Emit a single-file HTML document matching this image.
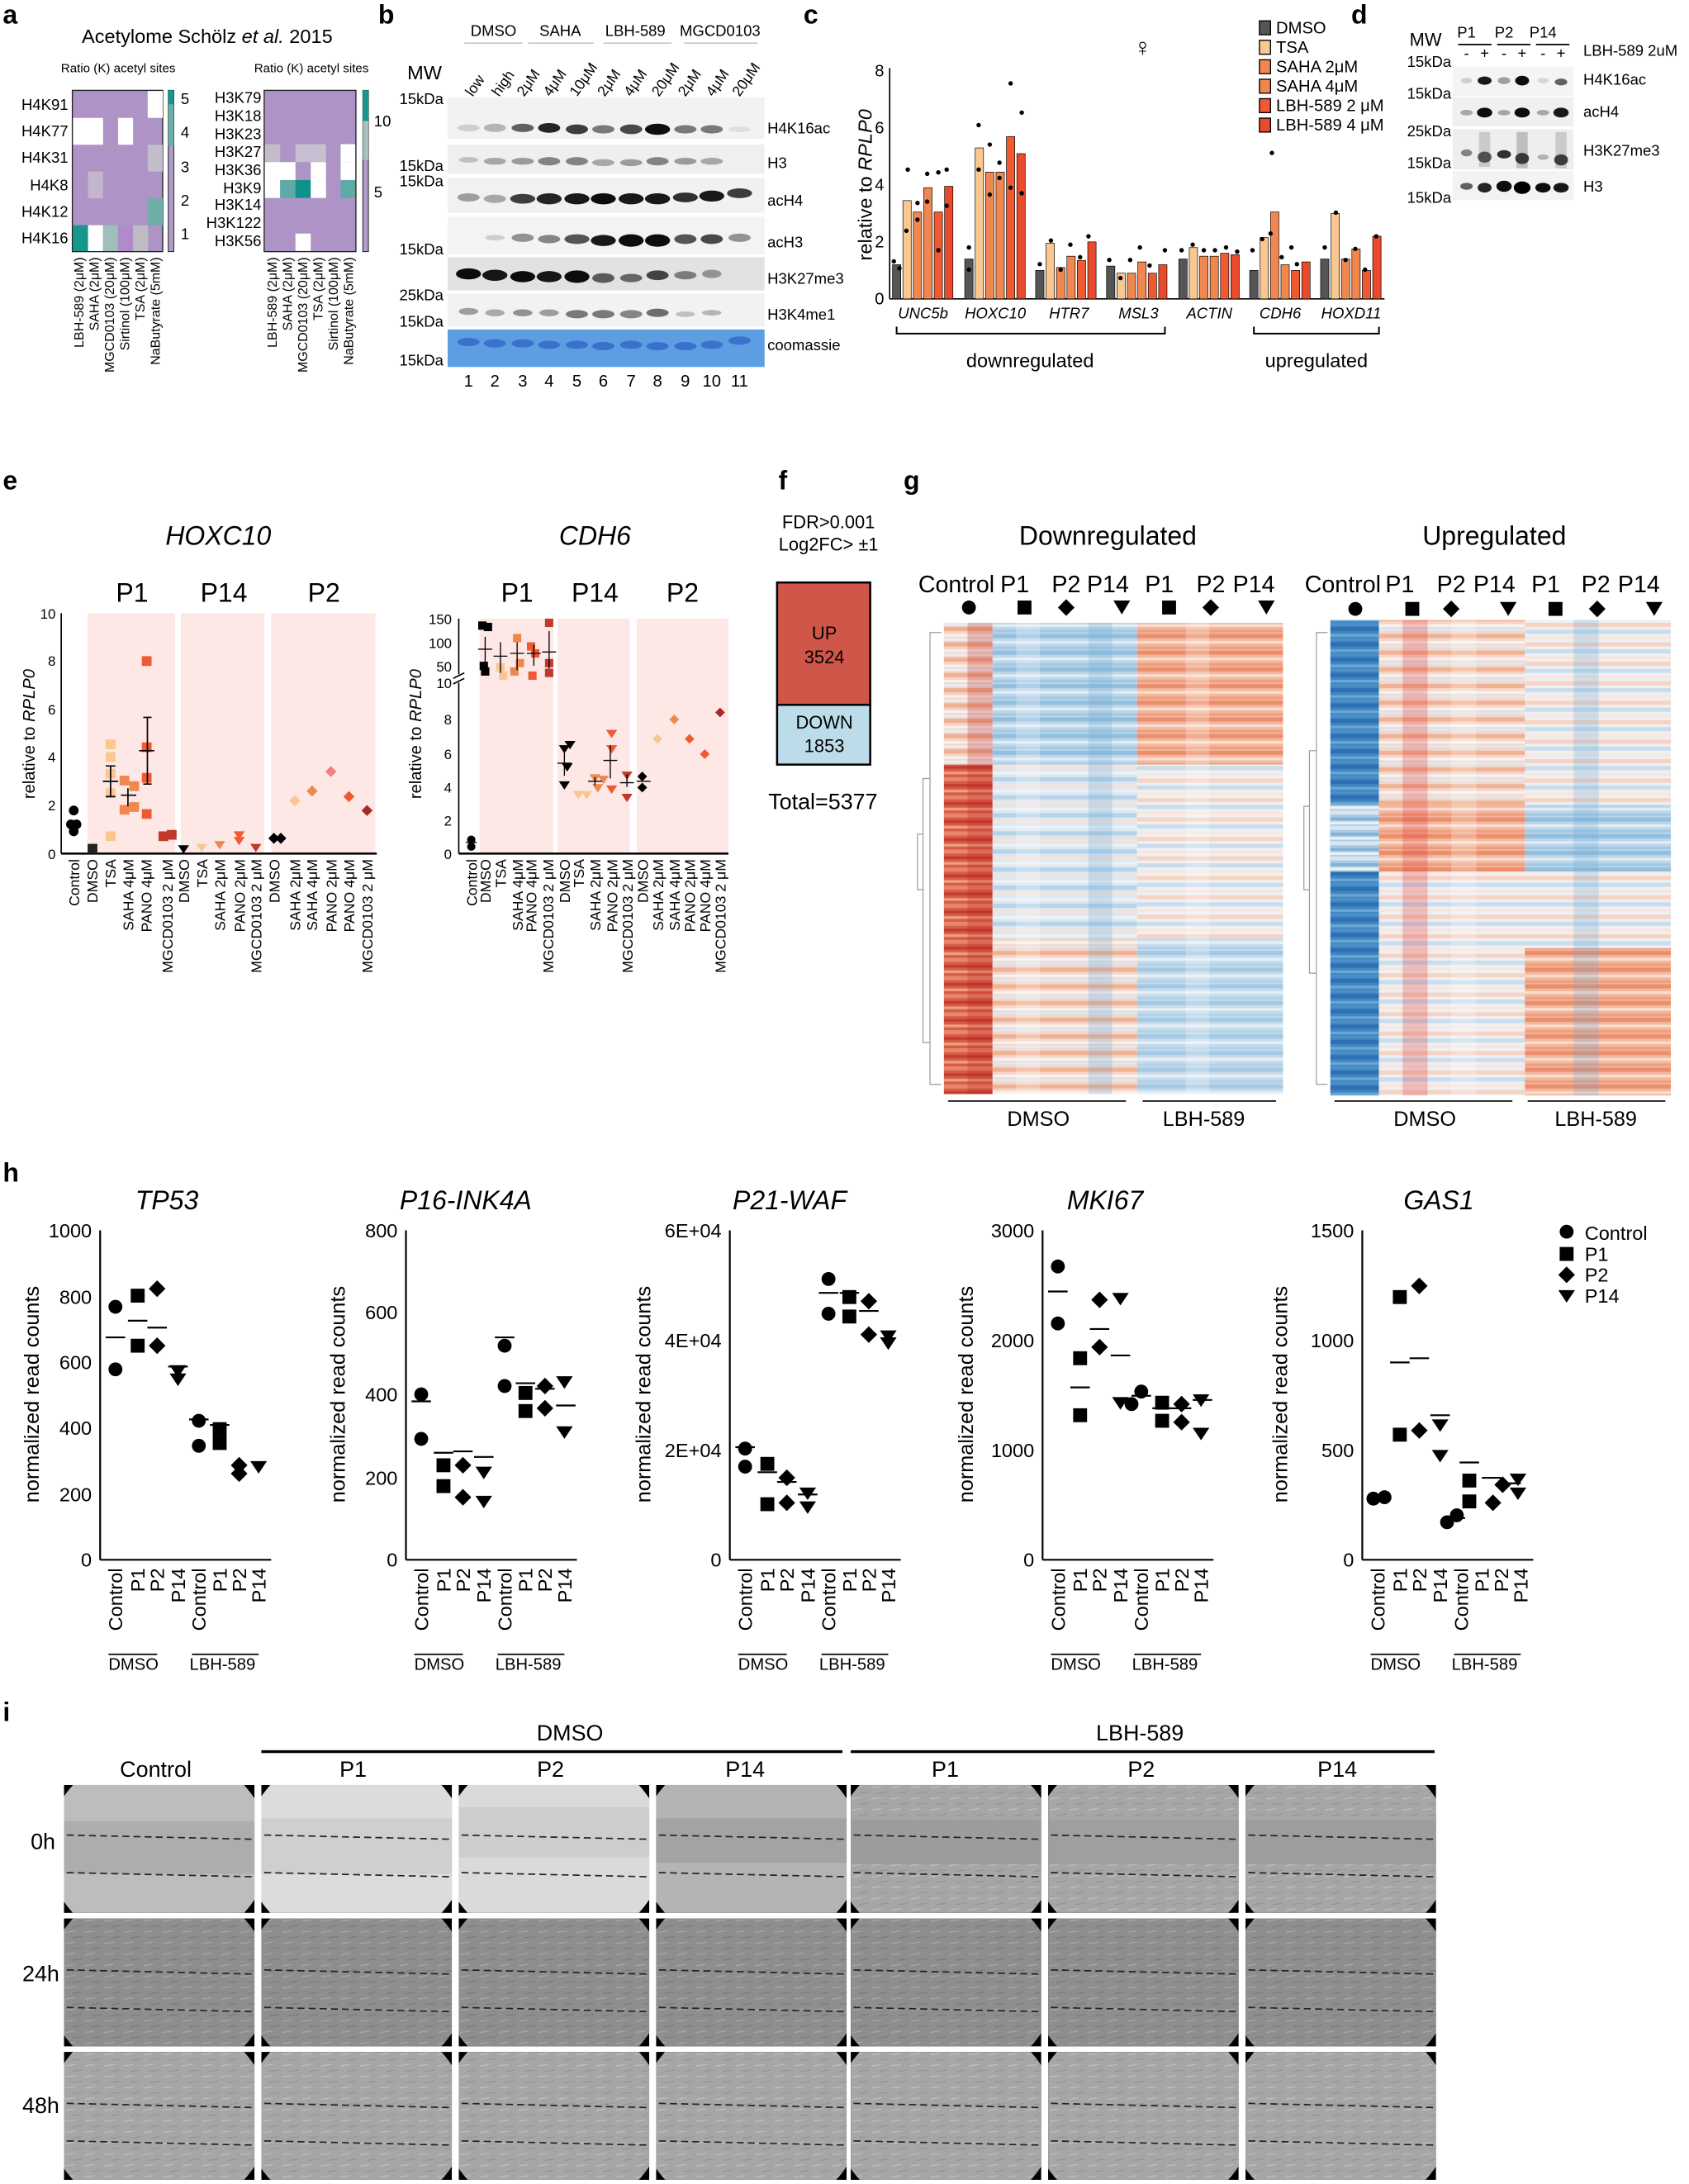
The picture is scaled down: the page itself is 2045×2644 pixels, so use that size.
<!DOCTYPE html>
<html><head><meta charset="utf-8"><style>
html,body{margin:0;padding:0;background:#fff}
svg{display:block;font-family:"Liberation Sans",Arial,sans-serif}
</style></head><body>
<svg width="2045" height="2644" viewBox="0 0 1215 1571" xmlns="http://www.w3.org/2000/svg">
<defs>
<pattern id="pRed" width="10" height="13" patternUnits="userSpaceOnUse"><rect width="10" height="13" fill="#d65c45"/><rect y="0" width="10" height="3" fill="#e8866a"/><rect y="5" width="10" height="2" fill="#c33b34"/><rect y="9" width="10" height="2" fill="#ee9f83"/></pattern>
<pattern id="pPale" width="10" height="11" patternUnits="userSpaceOnUse"><rect width="10" height="11" fill="#f5d3c4"/><rect y="0" width="10" height="3" fill="#eeb093"/><rect y="5" width="10" height="2" fill="#f7f1ee"/><rect y="8" width="10" height="2" fill="#e7eef4"/></pattern>
<pattern id="pBlue" width="10" height="12" patternUnits="userSpaceOnUse"><rect width="10" height="12" fill="#bcd6ea"/><rect y="0" width="10" height="3" fill="#93bfdf"/><rect y="5" width="10" height="2" fill="#e1ecf4"/><rect y="9" width="10" height="2" fill="#a6c9e3"/></pattern>
<pattern id="pMix" width="10" height="14" patternUnits="userSpaceOnUse"><rect width="10" height="14" fill="#eef0f3"/><rect y="0" width="10" height="3" fill="#f6d3c3"/><rect y="5" width="10" height="3" fill="#c9ddec"/><rect y="10" width="10" height="2" fill="#f9e6dd"/></pattern>
<pattern id="pMixB" width="10" height="13" patternUnits="userSpaceOnUse"><rect width="10" height="13" fill="#dbe8f2"/><rect y="0" width="10" height="3" fill="#b7d3e8"/><rect y="5" width="10" height="2" fill="#f4e3da"/><rect y="9" width="10" height="2" fill="#eef2f5"/></pattern>
<pattern id="pMixR" width="10" height="12" patternUnits="userSpaceOnUse"><rect width="10" height="12" fill="#f6d6c8"/><rect y="0" width="10" height="3" fill="#efb295"/><rect y="5" width="10" height="2" fill="#f6f2f0"/><rect y="8" width="10" height="2" fill="#dce8f1"/></pattern>
<pattern id="pOr" width="10" height="12" patternUnits="userSpaceOnUse"><rect width="10" height="12" fill="#f3b79b"/><rect y="0" width="10" height="3" fill="#ea8e6e"/><rect y="5" width="10" height="2" fill="#f9ddd0"/><rect y="9" width="10" height="2" fill="#ef9f80"/></pattern>
<pattern id="pDeep" width="10" height="11" patternUnits="userSpaceOnUse"><rect width="10" height="11" fill="#3f86c2"/><rect y="0" width="10" height="3" fill="#2c72b3"/><rect y="5" width="10" height="2" fill="#6aa6d2"/><rect y="8" width="10" height="2" fill="#4d8fc7"/></pattern>
<pattern id="pDeepL" width="10" height="11" patternUnits="userSpaceOnUse"><rect width="10" height="11" fill="#a9cbe4"/><rect y="0" width="10" height="3" fill="#d6e5f1"/><rect y="5" width="10" height="2" fill="#7fb1d9"/><rect y="8" width="10" height="2" fill="#eef1f3"/></pattern>
<pattern id="cells" width="14" height="8" patternUnits="userSpaceOnUse"><rect width="14" height="8" fill="#8e8e8e"/><line x1="1" y1="2" x2="8" y2="1" stroke="#a8a8a8" stroke-width="0.7"/><line x1="6" y1="6" x2="13" y2="5" stroke="#7a7a7a" stroke-width="0.7"/></pattern>
<pattern id="cellsL" width="14" height="8" patternUnits="userSpaceOnUse"><rect width="14" height="8" fill="#a6a6a6"/><line x1="1" y1="2" x2="8" y2="1" stroke="#c0c0c0" stroke-width="0.7"/><line x1="6" y1="6" x2="13" y2="5" stroke="#949494" stroke-width="0.7"/></pattern>
<clipPath id="lens"><ellipse cx="68" cy="46" rx="80" ry="72"/></clipPath>
</defs>

<g font-weight="bold" font-size="19">
<text x="2" y="17">a</text><text x="272" y="17">b</text><text x="578" y="17">c</text><text x="972" y="17">d</text>
<text x="2" y="352">e</text><text x="560" y="352">f</text><text x="650" y="352">g</text><text x="2" y="850">h</text><text x="2" y="1238">i</text>
</g>

<!-- a -->
<text x="149" y="31" font-size="14" text-anchor="middle">Acetylome Schölz <tspan font-style="italic">et al.</tspan> 2015</text>
<text x="85" y="52" font-size="9" text-anchor="middle">Ratio (K) acetyl sites</text>
<text x="224" y="52" font-size="9" text-anchor="middle">Ratio (K) acetyl sites</text>
<g font-size="11" text-anchor="end">
<text x="49" y="79">H4K91</text><text x="49" y="98">H4K77</text><text x="49" y="117">H4K31</text><text x="49" y="137">H4K8</text><text x="49" y="156">H4K12</text><text x="49" y="175">H4K16</text>
</g>
<rect x="52" y="65" width="65" height="116" fill="#ad93c6" stroke="#222" stroke-width="0.8"/>
<g>
<rect x="106.2" y="65.5" width="10.8" height="19.3" fill="#fff"/>
<rect x="52.5" y="84.8" width="21.6" height="19.3" fill="#fff"/><rect x="84.9" y="84.8" width="10.8" height="19.3" fill="#fff"/>
<rect x="106.2" y="104.1" width="10.8" height="19.3" fill="#c3bccb"/>
<rect x="63.3" y="123.4" width="10.8" height="19.3" fill="#c2b6cf"/>
<rect x="106.2" y="142.7" width="10.8" height="19.3" fill="#6eaea7"/>
<rect x="52.5" y="162" width="10.8" height="18.6" fill="#15978b"/><rect x="63.3" y="162" width="10.8" height="18.6" fill="#fff"/><rect x="74.1" y="162" width="10.8" height="18.6" fill="#9ebfba"/><rect x="84.9" y="162" width="10.8" height="18.6" fill="#b08bcc"/><rect x="95.7" y="162" width="10.8" height="18.6" fill="#bdbcc4"/>
</g>
<rect x="121" y="65" width="4" height="116" fill="#b19ccb" stroke="#222" stroke-width="0.6"/><rect x="121" y="65" width="4" height="40" fill="#6aaea8"/><rect x="121" y="65" width="4" height="10" fill="#15978b"/>
<g font-size="11"><text x="130" y="75">5</text><text x="130" y="99">4</text><text x="130" y="124">3</text><text x="130" y="148">2</text><text x="130" y="172">1</text></g>
<g font-size="11" text-anchor="end">
<text x="188" y="74">H3K79</text><text x="188" y="87">H3K18</text><text x="188" y="100">H3K23</text><text x="188" y="113">H3K27</text><text x="188" y="126">H3K36</text><text x="188" y="139">H3K9</text><text x="188" y="151">H3K14</text><text x="188" y="164">H3K122</text><text x="188" y="177">H3K56</text></g>
<rect x="190" y="65" width="66" height="116" fill="#ad93c6" stroke="#222" stroke-width="0.8"/>
<g>
<rect x="190.5" y="103.7" width="11" height="12.9" fill="#c3bccb"/><rect x="212.5" y="103.7" width="22" height="12.9" fill="#c7bfd0"/><rect x="245" y="103.7" width="10.5" height="12.9" fill="#fff"/>
<rect x="190.5" y="116.6" width="22" height="12.9" fill="#fff"/><rect x="223.5" y="116.6" width="11" height="12.9" fill="#fff"/><rect x="245" y="116.6" width="10.5" height="12.9" fill="#fff"/>
<rect x="190.5" y="129.5" width="11" height="12.9" fill="#fff"/><rect x="201.5" y="129.5" width="11" height="12.9" fill="#5faaa4"/><rect x="212.5" y="129.5" width="11" height="12.9" fill="#0e928a"/><rect x="223.5" y="129.5" width="11" height="12.9" fill="#fff"/><rect x="245" y="129.5" width="10.5" height="12.9" fill="#5faaa4"/>
<rect x="212.5" y="168" width="11" height="12.5" fill="#fff"/>
</g>
<rect x="261" y="65" width="4" height="116" fill="#b19ccb" stroke="#222" stroke-width="0.6"/><rect x="261" y="65" width="4" height="50" fill="#a8c0bd"/><rect x="261" y="65" width="4" height="22" fill="#15978b"/>
<g font-size="11"><text x="269" y="91">10</text><text x="269" y="142">5</text></g>
<g font-size="9.5">
<text transform="translate(60,185) rotate(-90)" text-anchor="end">LBH-589 (2μM)</text>
<text transform="translate(71,185) rotate(-90)" text-anchor="end">SAHA (2μM)</text>
<text transform="translate(82,185) rotate(-90)" text-anchor="end">MGCD0103 (20μM)</text>
<text transform="translate(93,185) rotate(-90)" text-anchor="end">Sirtinol (100μM)</text>
<text transform="translate(104,185) rotate(-90)" text-anchor="end">TSA (2μM)</text>
<text transform="translate(115,185) rotate(-90)" text-anchor="end">NaButyrate (5mM)</text>
<text transform="translate(199,185) rotate(-90)" text-anchor="end">LBH-589 (2μM)</text>
<text transform="translate(210,185) rotate(-90)" text-anchor="end">SAHA (2μM)</text>
<text transform="translate(221,185) rotate(-90)" text-anchor="end">MGCD0103 (20μM)</text>
<text transform="translate(232,185) rotate(-90)" text-anchor="end">TSA (2μM)</text>
<text transform="translate(243,185) rotate(-90)" text-anchor="end">Sirtinol (100μM)</text>
<text transform="translate(254,185) rotate(-90)" text-anchor="end">NaButyrate (5mM)</text>
</g>

<!-- b blots -->
<g font-size="11">
<text x="355" y="26" text-anchor="middle">DMSO</text><text x="403" y="26" text-anchor="middle">SAHA</text><text x="457" y="26" text-anchor="middle">LBH-589</text><text x="518" y="26" text-anchor="middle">MGCD0103</text>
<text x="293" y="57" font-size="14">MW</text>
<g text-anchor="end"><text x="319" y="75">15kDa</text><text x="319" y="123">15kDa</text><text x="319" y="134">15kDa</text><text x="319" y="183">15kDa</text><text x="319" y="216">25kDa</text><text x="319" y="235">15kDa</text><text x="319" y="263">15kDa</text></g>
<text x="552" y="96">H4K16ac</text><text x="552" y="121">H3</text><text x="552" y="148">acH4</text><text x="552" y="178">acH3</text><text x="552" y="204">H3K27me3</text><text x="552" y="230">H3K4me1</text><text x="552" y="252">coomassie</text>
</g>
<g font-size="10.5">
<text transform="translate(340,70) rotate(-55)">low</text><text transform="translate(359,70) rotate(-55)">high</text><text transform="translate(377,70) rotate(-55)">2μM</text><text transform="translate(396,70) rotate(-55)">4μM</text><text transform="translate(415,70) rotate(-55)">10μM</text><text transform="translate(435,70) rotate(-55)">2μM</text><text transform="translate(454,70) rotate(-55)">4μM</text><text transform="translate(474,70) rotate(-55)">20μM</text><text transform="translate(493,70) rotate(-55)">2μM</text><text transform="translate(513,70) rotate(-55)">4μM</text><text transform="translate(532,70) rotate(-55)">20μM</text>
</g>
<g stroke="#bbb" stroke-width="0.8"><line x1="334" y1="31" x2="376" y2="31"/><line x1="380" y1="31" x2="427" y2="31"/><line x1="434" y1="31" x2="483" y2="31"/><line x1="492" y1="31" x2="545" y2="31"/></g>
<rect x="322" y="70" width="228" height="30" fill="#f2f2f2"/>
<rect x="322" y="104" width="228" height="21" fill="#efefef"/>
<rect x="322" y="128" width="228" height="25" fill="#f1f1f1"/>
<rect x="322" y="156" width="228" height="27" fill="#f3f3f3"/>
<rect x="322" y="185" width="228" height="24" fill="#e2e2e2"/>
<rect x="322" y="211" width="228" height="24" fill="#f2f2f2"/>
<rect x="322" y="237" width="228" height="27" fill="#5d9ee3"/>
<g fill="#000">
<ellipse cx="337" cy="92" rx="8" ry="2.5" opacity=".15"/><ellipse cx="356" cy="92" rx="8" ry="3" opacity=".25"/><ellipse cx="376" cy="92" rx="8" ry="3" opacity=".6"/><ellipse cx="395" cy="92" rx="8" ry="3.5" opacity=".85"/><ellipse cx="415" cy="93" rx="8" ry="3.5" opacity=".75"/><ellipse cx="434" cy="93" rx="8" ry="3" opacity=".5"/><ellipse cx="454" cy="93" rx="8" ry="3.5" opacity=".7"/><ellipse cx="473" cy="93" rx="9" ry="4" opacity=".95"/><ellipse cx="493" cy="93" rx="8" ry="3" opacity=".5"/><ellipse cx="512" cy="93" rx="8" ry="3" opacity=".5"/><ellipse cx="532" cy="93" rx="8" ry="2" opacity=".08"/>
<ellipse cx="337" cy="115" rx="7" ry="2" opacity=".2"/><ellipse cx="356" cy="116" rx="8" ry="2.5" opacity=".3"/><ellipse cx="376" cy="116" rx="8" ry="2.5" opacity=".35"/><ellipse cx="395" cy="116" rx="8" ry="3" opacity=".45"/><ellipse cx="415" cy="116" rx="8" ry="3" opacity=".45"/><ellipse cx="434" cy="117" rx="8" ry="2.5" opacity=".3"/><ellipse cx="454" cy="117" rx="8" ry="2.5" opacity=".35"/><ellipse cx="473" cy="116" rx="8" ry="3" opacity=".45"/><ellipse cx="493" cy="116" rx="8" ry="2.5" opacity=".35"/><ellipse cx="512" cy="116" rx="8" ry="2.5" opacity=".3"/>
<ellipse cx="337" cy="142" rx="8" ry="3" opacity=".35"/><ellipse cx="356" cy="143" rx="8" ry="3" opacity=".3"/><ellipse cx="376" cy="143" rx="9" ry="3.5" opacity=".75"/><ellipse cx="395" cy="143" rx="9" ry="4" opacity=".85"/><ellipse cx="415" cy="143" rx="9" ry="4" opacity=".9"/><ellipse cx="434" cy="143" rx="9" ry="4" opacity=".95"/><ellipse cx="454" cy="143" rx="9" ry="4" opacity=".9"/><ellipse cx="473" cy="143" rx="9" ry="4" opacity=".9"/><ellipse cx="493" cy="142" rx="9" ry="3.5" opacity=".8"/><ellipse cx="512" cy="141" rx="9" ry="4" opacity=".9"/><ellipse cx="532" cy="139" rx="9" ry="3.5" opacity=".75"/>
<ellipse cx="356" cy="171" rx="7" ry="2" opacity=".15"/><ellipse cx="376" cy="171" rx="8" ry="3" opacity=".4"/><ellipse cx="395" cy="172" rx="8" ry="3" opacity=".45"/><ellipse cx="415" cy="172" rx="9" ry="3.5" opacity=".65"/><ellipse cx="434" cy="173" rx="9" ry="4" opacity=".9"/><ellipse cx="454" cy="173" rx="9" ry="4.5" opacity=".95"/><ellipse cx="473" cy="173" rx="9" ry="4.5" opacity=".95"/><ellipse cx="493" cy="172" rx="8" ry="3.5" opacity=".65"/><ellipse cx="512" cy="172" rx="8" ry="3.5" opacity=".7"/><ellipse cx="532" cy="171" rx="8" ry="3" opacity=".4"/>
<ellipse cx="337" cy="197" rx="9" ry="4" opacity=".95"/><ellipse cx="356" cy="198" rx="9" ry="4" opacity=".9"/><ellipse cx="376" cy="199" rx="9" ry="4" opacity=".95"/><ellipse cx="395" cy="199" rx="9" ry="4" opacity=".9"/><ellipse cx="415" cy="199" rx="9" ry="4.5" opacity=".95"/><ellipse cx="434" cy="200" rx="8" ry="3.5" opacity=".6"/><ellipse cx="454" cy="200" rx="8" ry="3" opacity=".55"/><ellipse cx="473" cy="198" rx="8" ry="3.5" opacity=".7"/><ellipse cx="493" cy="198" rx="8" ry="3" opacity=".45"/><ellipse cx="512" cy="197" rx="7" ry="3" opacity=".35"/>
<ellipse cx="337" cy="224" rx="7" ry="2.5" opacity=".35"/><ellipse cx="356" cy="225" rx="7" ry="2.5" opacity=".3"/><ellipse cx="376" cy="225" rx="7" ry="2.5" opacity=".4"/><ellipse cx="395" cy="225" rx="7" ry="2.5" opacity=".35"/><ellipse cx="415" cy="226" rx="8" ry="3" opacity=".5"/><ellipse cx="434" cy="226" rx="8" ry="3" opacity=".5"/><ellipse cx="454" cy="226" rx="8" ry="3" opacity=".45"/><ellipse cx="473" cy="225" rx="8" ry="3" opacity=".55"/><ellipse cx="493" cy="226" rx="7" ry="2" opacity=".2"/><ellipse cx="512" cy="225" rx="7" ry="2" opacity=".25"/>
</g>
<g fill="#2f63c6" opacity=".75">
<ellipse cx="337" cy="246" rx="8" ry="3"/><ellipse cx="356" cy="247" rx="8" ry="3"/><ellipse cx="376" cy="247" rx="8" ry="3"/><ellipse cx="395" cy="248" rx="8" ry="3"/><ellipse cx="415" cy="248" rx="8" ry="3"/><ellipse cx="434" cy="249" rx="8" ry="3"/><ellipse cx="454" cy="248" rx="8" ry="3"/><ellipse cx="473" cy="249" rx="8" ry="3"/><ellipse cx="493" cy="249" rx="8" ry="3"/><ellipse cx="512" cy="248" rx="8" ry="3"/><ellipse cx="532" cy="245" rx="8" ry="3"/>
</g>
<g font-size="12" text-anchor="middle"><text x="337" y="278">1</text><text x="356" y="278">2</text><text x="376" y="278">3</text><text x="395" y="278">4</text><text x="415" y="278">5</text><text x="434" y="278">6</text><text x="454" y="278">7</text><text x="473" y="278">8</text><text x="493" y="278">9</text><text x="512" y="278">10</text><text x="532" y="278">11</text></g>

<!-- c -->
<text transform="translate(627,133) rotate(-90)" font-size="14" text-anchor="middle">relative to <tspan font-style="italic">RPLP0</tspan></text>
<line x1="640" y1="49" x2="640" y2="215" stroke="#000"/>
<line x1="640" y1="215" x2="996" y2="215" stroke="#000"/>
<g font-size="12" text-anchor="end"><text x="636" y="219">0</text><text x="636" y="178">2</text><text x="636" y="137">4</text><text x="636" y="96">6</text><text x="636" y="55">8</text></g>
<g stroke="#000" stroke-width="0.4">
<g transform="translate(642,0)"><rect x="0" y="190.4" width="6" height="24.6" fill="#555"/><rect x="7.5" y="144.3" width="6" height="70.7" fill="#f9c78f"/><rect x="15" y="152.5" width="6" height="62.5" fill="#f0874f"/><rect x="22.5" y="135" width="6" height="80" fill="#f0874f"/><rect x="30" y="152.5" width="6" height="62.5" fill="#ef5a32"/><rect x="37.5" y="134" width="6" height="81" fill="#ea4a2c"/></g>
<g transform="translate(694,0)"><rect x="0" y="186.3" width="6" height="28.7" fill="#555"/><rect x="7.5" y="106.4" width="6" height="108.6" fill="#f9c78f"/><rect x="15" y="123.8" width="6" height="91.2" fill="#f0874f"/><rect x="22.5" y="123.8" width="6" height="91.2" fill="#f0874f"/><rect x="30" y="98.2" width="6" height="116.8" fill="#ef5a32"/><rect x="37.5" y="110.5" width="6" height="104.5" fill="#ea4a2c"/></g>
<g transform="translate(745,0)"><rect x="0" y="194.5" width="6" height="20.5" fill="#555"/><rect x="7.5" y="175" width="6" height="40" fill="#f9c78f"/><rect x="15" y="192.4" width="6" height="22.6" fill="#f0874f"/><rect x="22.5" y="184.3" width="6" height="30.7" fill="#f0874f"/><rect x="30" y="187.3" width="6" height="27.7" fill="#ef5a32"/><rect x="37.5" y="174" width="6" height="41" fill="#ea4a2c"/></g>
<g transform="translate(796,0)"><rect x="0" y="191.4" width="6" height="23.6" fill="#555"/><rect x="7.5" y="196.5" width="6" height="18.5" fill="#f9c78f"/><rect x="15" y="196.5" width="6" height="18.5" fill="#f0874f"/><rect x="22.5" y="188.4" width="6" height="26.6" fill="#f0874f"/><rect x="30" y="196.5" width="6" height="18.5" fill="#ef5a32"/><rect x="37.5" y="190.4" width="6" height="24.6" fill="#ea4a2c"/></g>
<g transform="translate(848,0)"><rect x="0" y="186.3" width="6" height="28.7" fill="#555"/><rect x="7.5" y="178.1" width="6" height="36.9" fill="#f9c78f"/><rect x="15" y="184.3" width="6" height="30.7" fill="#f0874f"/><rect x="22.5" y="184.3" width="6" height="30.7" fill="#f0874f"/><rect x="30" y="182.2" width="6" height="32.8" fill="#ef5a32"/><rect x="37.5" y="183.2" width="6" height="31.8" fill="#ea4a2c"/></g>
<g transform="translate(899,0)"><rect x="0" y="194.5" width="6" height="20.5" fill="#555"/><rect x="7.5" y="170.9" width="6" height="44.1" fill="#f9c78f"/><rect x="15" y="152.5" width="6" height="62.5" fill="#f0874f"/><rect x="22.5" y="190.4" width="6" height="24.6" fill="#f0874f"/><rect x="30" y="194.5" width="6" height="20.5" fill="#ef5a32"/><rect x="37.5" y="188.4" width="6" height="26.6" fill="#ea4a2c"/></g>
<g transform="translate(950,0)"><rect x="0" y="186.3" width="6" height="28.7" fill="#555"/><rect x="7.5" y="153.5" width="6" height="61.5" fill="#f9c78f"/><rect x="15" y="186.3" width="6" height="28.7" fill="#f0874f"/><rect x="22.5" y="179.1" width="6" height="35.9" fill="#f0874f"/><rect x="30" y="194.5" width="6" height="20.5" fill="#ef5a32"/><rect x="37.5" y="169.9" width="6" height="45.1" fill="#ea4a2c"/></g>
</g>
<g fill="#000">
<circle cx="643" cy="188" r="1.6"/><circle cx="647" cy="193" r="1.6"/><circle cx="653" cy="122" r="1.6"/><circle cx="652" cy="166" r="1.6"/><circle cx="660" cy="146" r="1.6"/><circle cx="660" cy="158" r="1.6"/><circle cx="667" cy="125" r="1.6"/><circle cx="667" cy="145" r="1.6"/><circle cx="675" cy="124" r="1.6"/><circle cx="675" cy="180" r="1.6"/><circle cx="681" cy="122" r="1.6"/><circle cx="681" cy="148" r="1.6"/>
<circle cx="697" cy="178" r="1.6"/><circle cx="697" cy="194" r="1.6"/><circle cx="704" cy="90" r="1.6"/><circle cx="704" cy="122" r="1.6"/><circle cx="712" cy="104" r="1.6"/><circle cx="712" cy="140" r="1.6"/><circle cx="719" cy="117" r="1.6"/><circle cx="719" cy="128" r="1.6"/><circle cx="727" cy="60" r="1.6"/><circle cx="727" cy="135" r="1.6"/><circle cx="735" cy="81" r="1.6"/><circle cx="735" cy="139" r="1.6"/>
<circle cx="748" cy="190" r="1.6"/><circle cx="756" cy="173" r="1.6"/><circle cx="763" cy="194" r="1.6"/><circle cx="770" cy="176" r="1.6"/><circle cx="777" cy="185" r="1.6"/><circle cx="783" cy="170" r="1.6"/>
<circle cx="798" cy="187" r="1.6"/><circle cx="806" cy="200" r="1.6"/><circle cx="813" cy="187" r="1.6"/><circle cx="820" cy="178" r="1.6"/><circle cx="827" cy="191" r="1.6"/><circle cx="838" cy="180" r="1.6"/>
<circle cx="850" cy="180" r="1.6"/><circle cx="858" cy="176" r="1.6"/><circle cx="866" cy="180" r="1.6"/><circle cx="874" cy="180" r="1.6"/><circle cx="882" cy="178" r="1.6"/><circle cx="890" cy="181" r="1.6"/>
<circle cx="901" cy="180" r="1.6"/><circle cx="908" cy="172" r="1.6"/><circle cx="914" cy="168" r="1.6"/><circle cx="915" cy="110" r="1.6"/><circle cx="922" cy="185" r="1.6"/><circle cx="929" cy="178" r="1.6"/><circle cx="933" cy="190" r="1.6"/>
<circle cx="953" cy="178" r="1.6"/><circle cx="961" cy="153" r="1.6"/><circle cx="968" cy="187" r="1.6"/><circle cx="975" cy="179" r="1.6"/><circle cx="982" cy="194" r="1.6"/><circle cx="990" cy="170" r="1.6"/>
</g>
<g font-size="11" font-style="italic" text-anchor="middle"><text x="664" y="229">UNC5b</text><text x="716" y="229">HOXC10</text><text x="769" y="229">HTR7</text><text x="819" y="229">MSL3</text><text x="870" y="229">ACTIN</text><text x="921" y="229">CDH6</text><text x="972" y="229">HOXD11</text></g>
<path d="M645 235v5h193v-5M902 235v5h90v-5" fill="none" stroke="#000" stroke-width="1.2"/>
<text x="741" y="264" font-size="14" text-anchor="middle">downregulated</text>
<text x="947" y="264" font-size="14" text-anchor="middle">upregulated</text>
<text x="822" y="40" font-size="18" text-anchor="middle">♀</text>
<g font-size="12" stroke-width="0.8">
<rect x="906" y="15" width="8" height="10" fill="#555" stroke="#000"/><text x="918" y="24">DMSO</text>
<rect x="906" y="29" width="8" height="10" fill="#f9c78f" stroke="#000"/><text x="918" y="38">TSA</text>
<rect x="906" y="43" width="8" height="10" fill="#f0874f" stroke="#000"/><text x="918" y="52">SAHA 2μM</text>
<rect x="906" y="57" width="8" height="10" fill="#f0874f" stroke="#000"/><text x="918" y="66">SAHA 4μM</text>
<rect x="906" y="71" width="8" height="10" fill="#ef5a32" stroke="#000"/><text x="918" y="80">LBH-589 2 μM</text>
<rect x="906" y="85" width="8" height="10" fill="#ea4a2c" stroke="#000"/><text x="918" y="94">LBH-589 4 μM</text>
</g>

<!-- d -->
<g font-size="11">
<text x="1014" y="33" font-size="13">MW</text><text x="1055" y="27" text-anchor="middle">P1</text><text x="1082" y="27" text-anchor="middle">P2</text><text x="1110" y="27" text-anchor="middle">P14</text>
<g stroke="#000"><line x1="1049" y1="32" x2="1073" y2="32"/><line x1="1077" y1="32" x2="1101" y2="32"/><line x1="1105" y1="32" x2="1129" y2="32"/></g>
<g text-anchor="middle"><text x="1055" y="42">-</text><text x="1068" y="42">+</text><text x="1082" y="42">-</text><text x="1095" y="42">+</text><text x="1110" y="42">-</text><text x="1123" y="42">+</text></g>
<text x="1139" y="40">LBH-589 2uM</text>
<g text-anchor="end"><text x="1044" y="48">15kDa</text><text x="1044" y="71">15kDa</text><text x="1044" y="98">25kDa</text><text x="1044" y="121">15kDa</text><text x="1044" y="146">15kDa</text></g>
<text x="1139" y="61">H4K16ac</text><text x="1139" y="84">acH4</text><text x="1139" y="112">H3K27me3</text><text x="1139" y="138">H3</text>
</g>
<rect x="1045" y="48" width="87" height="21" fill="#f4f4f4"/><rect x="1045" y="70" width="87" height="21" fill="#f0f0f0"/><rect x="1045" y="93" width="87" height="29" fill="#eeeeee"/><rect x="1045" y="123" width="87" height="21" fill="#f3f3f3"/>
<g fill="#000">
<ellipse cx="1055" cy="58" rx="4" ry="2" opacity=".15"/><ellipse cx="1068" cy="58" rx="5" ry="3" opacity=".9"/><ellipse cx="1082" cy="58" rx="4.5" ry="2.5" opacity=".35"/><ellipse cx="1095" cy="58" rx="5" ry="3.5" opacity=".95"/><ellipse cx="1110" cy="58" rx="4" ry="2" opacity=".12"/><ellipse cx="1123" cy="59" rx="4.5" ry="2.5" opacity=".6"/>
<ellipse cx="1055" cy="81" rx="4.5" ry="2" opacity=".3"/><ellipse cx="1068" cy="81" rx="5.5" ry="3.5" opacity=".95"/><ellipse cx="1082" cy="81" rx="4.5" ry="2" opacity=".3"/><ellipse cx="1095" cy="81" rx="5.5" ry="3.5" opacity=".95"/><ellipse cx="1110" cy="81" rx="4.5" ry="2" opacity=".3"/><ellipse cx="1123" cy="81" rx="5.5" ry="3.5" opacity=".9"/>
<ellipse cx="1055" cy="110" rx="4" ry="2.5" opacity=".45"/><ellipse cx="1068" cy="113" rx="5" ry="4" opacity=".6"/><rect x="1064" y="95" width="8" height="25" opacity=".15"/><ellipse cx="1082" cy="111" rx="5" ry="3" opacity=".8"/><ellipse cx="1095" cy="114" rx="5" ry="4" opacity=".7"/><rect x="1091" y="95" width="8" height="26" opacity=".2"/><ellipse cx="1110" cy="113" rx="4" ry="2" opacity=".25"/><ellipse cx="1123" cy="115" rx="5" ry="4" opacity=".7"/><rect x="1119" y="95" width="8" height="26" opacity=".15"/>
<ellipse cx="1055" cy="134" rx="4.5" ry="2.5" opacity=".6"/><ellipse cx="1068" cy="135" rx="5" ry="3.5" opacity=".85"/><ellipse cx="1082" cy="134" rx="5.5" ry="4" opacity=".95"/><ellipse cx="1095" cy="135" rx="6" ry="4.5" opacity="1"/><ellipse cx="1110" cy="135" rx="5.5" ry="3.5" opacity=".95"/><ellipse cx="1123" cy="135" rx="5.5" ry="3.5" opacity=".9"/>
</g>

<!-- e -->
<text x="157" y="392" font-size="19" font-style="italic" text-anchor="middle">HOXC10</text>
<text x="428" y="392" font-size="19" font-style="italic" text-anchor="middle">CDH6</text>
<g font-size="19" text-anchor="middle"><text x="95" y="433">P1</text><text x="161" y="433">P14</text><text x="233" y="433">P2</text><text x="372" y="433">P1</text><text x="428" y="433">P14</text><text x="491" y="433">P2</text></g>
<rect x="63" y="441" width="63" height="173" fill="#fde8e6"/><rect x="130" y="441" width="60" height="173" fill="#fde8e6"/><rect x="195" y="441" width="75" height="173" fill="#fde8e6"/>
<rect x="345" y="445" width="53" height="169" fill="#fde8e6"/><rect x="401" y="445" width="52" height="169" fill="#fde8e6"/><rect x="458" y="445" width="66" height="169" fill="#fde8e6"/>
<line x1="44" y1="441" x2="44" y2="614" stroke="#000"/><line x1="44" y1="614" x2="271" y2="614" stroke="#000" stroke-width="1.5"/>
<g font-size="10" text-anchor="end"><text x="40" y="618">0</text><text x="40" y="583">2</text><text x="40" y="548">4</text><text x="40" y="514">6</text><text x="40" y="479">8</text><text x="40" y="445">10</text></g>
<text transform="translate(25,528) rotate(-90)" font-size="12" text-anchor="middle">relative to <tspan font-style="italic">RPLP0</tspan></text>
<g>
<circle cx="53" cy="583" r="3.5"/><circle cx="51" cy="593" r="3.5"/><circle cx="55" cy="593" r="3.5"/><circle cx="53" cy="598" r="3.5"/>
<rect x="63" y="607" width="7" height="7" fill="#222"/>
<g fill="#f9c78f"><rect x="76" y="532" width="7" height="7"/><rect x="76" y="541" width="7" height="7"/><rect x="76" y="553" width="7" height="7"/><rect x="76" y="567" width="7" height="7"/><rect x="76" y="598" width="7" height="7"/></g>
<g fill="#f0874f"><rect x="86" y="558" width="7" height="7"/><rect x="93" y="562" width="7" height="7"/><rect x="86" y="579" width="7" height="7"/><rect x="93" y="577" width="7" height="7"/></g>
<g fill="#ef5a32"><rect x="102" y="472" width="7" height="7"/><rect x="102" y="534" width="7" height="7"/><rect x="102" y="556" width="7" height="7"/><rect x="102" y="582" width="7" height="7"/></g>
<g fill="#c0392b"><rect x="114" y="598" width="7" height="7"/><rect x="120" y="597" width="7" height="7"/></g>
<g stroke="#000" stroke-width="1"><path d="M74 562h11M79.5 551v22M76 551h7M76 573h7"/><path d="M87 572h11M92 567v13"/><path d="M100 540h11M106 516v48M103 516h6M103 564h6"/><path d="M48 592h10"/></g>
<path d="M128 608h8l-4 6z"/><path d="M141 607h8l-4 6z" fill="#f9c78f"/><path d="M154 605h8l-4 6z" fill="#f0874f"/><path d="M168 598h8l-4 6z" fill="#ef5a32"/><path d="M168 602h8l-4 6z" fill="#ef5a32"/><path d="M180 607h8l-4 6z" fill="#c0392b"/>
<path d="M197 599l4 4-4 4-4-4z"/><path d="M202 599l4 4-4 4-4-4z"/>
<path d="M212 572l4 4-4 4-4-4z" fill="#f9c78f"/><path d="M224.5 565l4 4-4 4-4-4z" fill="#f0874f"/><path d="M238 551l4 4-4 4-4-4z" fill="#f08080"/><path d="M251 569l4 4-4 4-4-4z" fill="#ef5a32"/><path d="M264 579l4 4-4 4-4-4z" fill="#a52a2a"/>
</g>
<line x1="330" y1="445" x2="330" y2="485" stroke="#000"/><line x1="330" y1="491" x2="330" y2="614" stroke="#000"/>
<path d="M326 488l8-4M326 492l8-4" stroke="#000"/>
<line x1="330" y1="614" x2="524" y2="614" stroke="#000" stroke-width="1.5"/>
<g font-size="10" text-anchor="end"><text x="325" y="618">0</text><text x="325" y="594">2</text><text x="325" y="570">4</text><text x="325" y="546">6</text><text x="325" y="521">8</text><text x="325" y="495">10</text><text x="325" y="483">50</text><text x="325" y="466">100</text><text x="325" y="449">150</text></g>
<text transform="translate(303,528) rotate(-90)" font-size="12" text-anchor="middle">relative to <tspan font-style="italic">RPLP0</tspan></text>
<g>
<circle cx="339" cy="604" r="3"/><circle cx="339" cy="609" r="3"/>
<rect x="344" y="447" width="6" height="6"/><rect x="348" y="448" width="6" height="6"/><rect x="345" y="476" width="6" height="6"/><rect x="346" y="480" width="6" height="6"/>
<rect x="357" y="477" width="6" height="6" fill="#f9c78f"/><rect x="359" y="483" width="6" height="6" fill="#f9c78f"/>
<rect x="369" y="456" width="6" height="6" fill="#f0874f"/><rect x="371" y="474" width="6" height="6" fill="#f0874f"/><rect x="367" y="480" width="6" height="6" fill="#f0874f"/>
<rect x="379" y="462" width="6" height="6" fill="#ef5a32"/><rect x="382" y="467" width="6" height="6" fill="#ef5a32"/><rect x="380" y="483" width="6" height="6" fill="#ef5a32"/>
<rect x="392" y="445" width="6" height="6" fill="#c0392b"/><rect x="392" y="474" width="6" height="6" fill="#c0392b"/><rect x="392" y="481" width="6" height="6" fill="#c0392b"/>
<g stroke="#000" stroke-width="0.8"><path d="M344 467h10M349 458v24M355 472h10M360 462v22M367 470h10M372 462v20M379 470h10M384 464v15M390 469h10M395 454v27M335 606h8"/></g>
<path d="M402 536h8l-4 6z"/><path d="M406 533h8l-4 6z"/><path d="M404 549h8l-4 6z"/><path d="M402 562h8l-4 6z"/>
<path d="M412 569h8l-4 6z" fill="#f9c78f"/><path d="M418 569h8l-4 6z" fill="#f9c78f"/>
<path d="M424 557h8l-4 6z" fill="#f0874f"/><path d="M430 558h8l-4 6z" fill="#f0874f"/><path d="M426 564h8l-4 6z" fill="#f0874f"/>
<path d="M436 525h8l-4 6z" fill="#ef5a32"/><path d="M436 536h8l-4 6z" fill="#ef5a32"/><path d="M436 565h8l-4 6z" fill="#ef5a32"/>
<path d="M447 555h8l-4 6z" fill="#c0392b"/><path d="M447 571h8l-4 6z" fill="#c0392b"/>
<g stroke="#000" stroke-width="0.8"><path d="M401 549h10M406 541v17M423 562h10M428 559v6M434 547h10M439 536v24M446 563h10M451 557v9M458 562h10"/></g>
<path d="M462 555l3.5 3.5-3.5 3.5-3.5-3.5z"/><path d="M462 563l3.5 3.5-3.5 3.5-3.5-3.5z"/>
<path d="M473 528l3.5 3.5-3.5 3.5-3.5-3.5z" fill="#f9c78f"/><path d="M485 514l3.5 3.5-3.5 3.5-3.5-3.5z" fill="#f0874f"/><path d="M496 528l3.5 3.5-3.5 3.5-3.5-3.5z" fill="#ef5a32"/><path d="M507 539l3.5 3.5-3.5 3.5-3.5-3.5z" fill="#ef5a32"/><path d="M518 509l3.5 3.5-3.5 3.5-3.5-3.5z" fill="#a52a2a"/>
</g>
<g font-size="10.5">
<text transform="translate(57,618) rotate(-90)" text-anchor="end">Control</text><text transform="translate(70,618) rotate(-90)" text-anchor="end">DMSO</text><text transform="translate(83,618) rotate(-90)" text-anchor="end">TSA</text><text transform="translate(96,618) rotate(-90)" text-anchor="end">SAHA 4μM</text><text transform="translate(109,618) rotate(-90)" text-anchor="end">PANO 4μM</text><text transform="translate(124,618) rotate(-90)" text-anchor="end">MGCD0103 2 μM</text>
<text transform="translate(136,618) rotate(-90)" text-anchor="end">DMSO</text><text transform="translate(149,618) rotate(-90)" text-anchor="end">TSA</text><text transform="translate(162,618) rotate(-90)" text-anchor="end">SAHA 2μM</text><text transform="translate(176,618) rotate(-90)" text-anchor="end">PANO 2μM</text><text transform="translate(188,618) rotate(-90)" text-anchor="end">MGCD0103 2 μM</text>
<text transform="translate(201,618) rotate(-90)" text-anchor="end">DMSO</text><text transform="translate(216,618) rotate(-90)" text-anchor="end">SAHA 2μM</text><text transform="translate(228,618) rotate(-90)" text-anchor="end">SAHA 4μM</text><text transform="translate(242,618) rotate(-90)" text-anchor="end">PANO 2μM</text><text transform="translate(255,618) rotate(-90)" text-anchor="end">PANO 4μM</text><text transform="translate(268,618) rotate(-90)" text-anchor="end">MGCD0103 2 μM</text>
<text transform="translate(343,618) rotate(-90)" text-anchor="end">Control</text><text transform="translate(353,618) rotate(-90)" text-anchor="end">DMSO</text><text transform="translate(364,618) rotate(-90)" text-anchor="end">TSA</text><text transform="translate(376,618) rotate(-90)" text-anchor="end">SAHA 4μM</text><text transform="translate(386,618) rotate(-90)" text-anchor="end">PANO 4μM</text><text transform="translate(398,618) rotate(-90)" text-anchor="end">MGCD0103 2 μM</text>
<text transform="translate(410,618) rotate(-90)" text-anchor="end">DMSO</text><text transform="translate(420,618) rotate(-90)" text-anchor="end">TSA</text><text transform="translate(432,618) rotate(-90)" text-anchor="end">SAHA 2μM</text><text transform="translate(444,618) rotate(-90)" text-anchor="end">PANO 2μM</text><text transform="translate(455,618) rotate(-90)" text-anchor="end">MGCD0103 2 μM</text>
<text transform="translate(466,618) rotate(-90)" text-anchor="end">DMSO</text><text transform="translate(477,618) rotate(-90)" text-anchor="end">SAHA 2μM</text><text transform="translate(489,618) rotate(-90)" text-anchor="end">SAHA 4μM</text><text transform="translate(500,618) rotate(-90)" text-anchor="end">PANO 2μM</text><text transform="translate(511,618) rotate(-90)" text-anchor="end">PANO 4μM</text><text transform="translate(522,618) rotate(-90)" text-anchor="end">MGCD0103 2 μM</text>
</g>

<!-- f -->
<text x="596" y="380" font-size="13" text-anchor="middle">FDR&gt;0.001</text>
<text x="596" y="396" font-size="13" text-anchor="middle">Log2FC&gt; ±1</text>
<rect x="559" y="419" width="67" height="88" fill="#d0564a" stroke="#000" stroke-width="1.5"/>
<rect x="559" y="507" width="67" height="43" fill="#bcdcea" stroke="#000" stroke-width="1.5"/>
<text x="593" y="460" font-size="13" text-anchor="middle">UP</text><text x="593" y="477" font-size="13" text-anchor="middle">3524</text>
<text x="593" y="524" font-size="13" text-anchor="middle">DOWN</text><text x="593" y="541" font-size="13" text-anchor="middle">1853</text>
<text x="592" y="582" font-size="16" text-anchor="middle">Total=5377</text>

<!-- g -->
<text x="797" y="392" font-size="19" text-anchor="middle">Downregulated</text>
<text x="1075" y="392" font-size="19" text-anchor="middle">Upregulated</text>
<g font-size="17" text-anchor="middle">
<text x="688" y="426">Control</text><text x="730" y="426">P1</text><text x="767" y="426">P2</text><text x="797" y="426">P14</text><text x="834" y="426">P1</text><text x="871" y="426">P2</text><text x="902" y="426">P14</text>
<text x="966" y="426">Control</text><text x="1007" y="426">P1</text><text x="1044" y="426">P2</text><text x="1075" y="426">P14</text><text x="1112" y="426">P1</text><text x="1148" y="426">P2</text><text x="1179" y="426">P14</text>
</g>
<g fill="#000">
<circle cx="697" cy="437" r="5"/><rect x="732" y="432" width="10" height="10"/><path d="M767 431l6 6-6 6-6-6z"/><path d="M801 432h12l-6 10z"/><rect x="836" y="432" width="10" height="10"/><path d="M871 431l6 6-6 6-6-6z"/><path d="M905 432h12l-6 10z"/>
<circle cx="975" cy="438" r="5"/><rect x="1011" y="433" width="10" height="10"/><path d="M1044 432l6 6-6 6-6-6z"/><path d="M1079 433h12l-6 10z"/><rect x="1114" y="433" width="10" height="10"/><path d="M1149 432l6 6-6 6-6-6z"/><path d="M1184 433h12l-6 10z"/>
</g>
<rect x="679" y="448" width="35" height="102" fill="url(#pPale)"/>
<rect x="679" y="550" width="35" height="237" fill="url(#pRed)"/>
<rect x="714" y="448" width="104" height="102" fill="url(#pBlue)"/>
<rect x="714" y="550" width="104" height="125" fill="url(#pMixB)"/>
<rect x="714" y="675" width="104" height="112" fill="url(#pMixR)"/>
<rect x="818" y="448" width="105" height="102" fill="url(#pOr)"/>
<rect x="818" y="550" width="105" height="125" fill="url(#pMix)"/>
<rect x="818" y="675" width="105" height="112" fill="url(#pBlue)" opacity=".85"/>
<g opacity=".25"><rect x="731" y="448" width="17" height="339" fill="#fff"/><rect x="783" y="448" width="17" height="339" fill="#6aa6d2"/><rect x="853" y="448" width="17" height="339" fill="#fff"/><rect x="696" y="448" width="18" height="339" fill="#b22"/></g>
<rect x="957" y="446" width="35" height="342" fill="url(#pDeep)"/>
<rect x="957" y="579" width="35" height="48" fill="url(#pDeepL)"/>
<rect x="992" y="446" width="105" height="133" fill="url(#pMixR)"/>
<rect x="992" y="579" width="105" height="48" fill="url(#pOr)"/>
<rect x="992" y="627" width="105" height="161" fill="url(#pMix)"/>
<rect x="1097" y="446" width="105" height="133" fill="url(#pMix)"/>
<rect x="1097" y="579" width="105" height="48" fill="url(#pBlue)"/>
<rect x="1097" y="627" width="105" height="55" fill="url(#pMix)"/>
<rect x="1097" y="682" width="105" height="106" fill="url(#pOr)"/>
<g opacity=".25"><rect x="1009" y="446" width="18" height="342" fill="#d33"/><rect x="1044" y="446" width="18" height="342" fill="#fff"/><rect x="1132" y="446" width="18" height="342" fill="#6aa6d2"/></g>
<path d="M677 455h-8v325h8M669 560h-5v190h5M664 600h-4v40h4" fill="none" stroke="#999" stroke-width="0.7"/>
<path d="M955 455h-8v325h8M947 540h-5v160h5M942 580h-4v60h4" fill="none" stroke="#999" stroke-width="0.7"/>
<line x1="682" y1="792" x2="810" y2="792" stroke="#000"/><line x1="822" y1="792" x2="918" y2="792" stroke="#000"/>
<line x1="960" y1="792" x2="1088" y2="792" stroke="#000"/><line x1="1099" y1="792" x2="1198" y2="792" stroke="#000"/>
<g font-size="15" text-anchor="middle"><text x="747" y="810">DMSO</text><text x="866" y="810">LBH-589</text><text x="1025" y="810">DMSO</text><text x="1148" y="810">LBH-589</text></g>

<!-- h -->
<g font-size="19" font-style="italic" text-anchor="middle"><text x="120" y="870">TP53</text><text x="335" y="870">P16-INK4A</text><text x="568" y="870">P21-WAF</text><text x="795" y="870">MKI67</text><text x="1035" y="870">GAS1</text></g>
<g font-size="14">
<circle cx="1127" cy="886" r="5"/><text x="1140" y="892">Control</text>
<rect x="1122" y="897" width="10" height="10"/><text x="1140" y="907">P1</text>
<path d="M1127 911l6 6-6 6-6-6z"/><text x="1140" y="922">P2</text>
<path d="M1121 928h12l-6 9z"/><text x="1140" y="937">P14</text>
</g>
<g font-size="14" text-anchor="end">
<line x1="72" y1="885" x2="72" y2="1122" stroke="#000" stroke-width="1.3"/><line x1="72" y1="1122" x2="195" y2="1122" stroke="#000" stroke-width="1.3"/>
<text x="66" y="890">1000</text><text x="66" y="938">800</text><text x="66" y="985">600</text><text x="66" y="1032">400</text><text x="66" y="1080">200</text><text x="66" y="1127">0</text>
<line x1="292" y1="885" x2="292" y2="1122" stroke="#000" stroke-width="1.3"/><line x1="292" y1="1122" x2="415" y2="1122" stroke="#000" stroke-width="1.3"/>
<text x="286" y="890">800</text><text x="286" y="949">600</text><text x="286" y="1008">400</text><text x="286" y="1068">200</text><text x="286" y="1127">0</text>
<line x1="525" y1="885" x2="525" y2="1122" stroke="#000" stroke-width="1.3"/><line x1="525" y1="1122" x2="648" y2="1122" stroke="#000" stroke-width="1.3"/>
<text x="519" y="890">6E+04</text><text x="519" y="969">4E+04</text><text x="519" y="1048">2E+04</text><text x="519" y="1127">0</text>
<line x1="750" y1="885" x2="750" y2="1122" stroke="#000" stroke-width="1.3"/><line x1="750" y1="1122" x2="873" y2="1122" stroke="#000" stroke-width="1.3"/>
<text x="744" y="890">3000</text><text x="744" y="969">2000</text><text x="744" y="1048">1000</text><text x="744" y="1127">0</text>
<line x1="980" y1="885" x2="980" y2="1122" stroke="#000" stroke-width="1.3"/><line x1="980" y1="1122" x2="1103" y2="1122" stroke="#000" stroke-width="1.3"/>
<text x="974" y="890">1500</text><text x="974" y="969">1000</text><text x="974" y="1048">500</text><text x="974" y="1127">0</text>
</g>
<g font-size="15" text-anchor="middle">
<text transform="translate(28,1003) rotate(-90)">normalized read counts</text><text transform="translate(248,1003) rotate(-90)">normalized read counts</text><text transform="translate(468,1003) rotate(-90)">normalized read counts</text><text transform="translate(700,1003) rotate(-90)">normalized read counts</text><text transform="translate(926,1003) rotate(-90)">normalized read counts</text>
</g>
<g>
<circle cx="83" cy="940" r="5"/><circle cx="83" cy="985" r="5"/><rect x="94" y="927" width="10" height="10"/><rect x="94" y="963" width="10" height="10"/><path d="M113 921l6 6-6 6-6-6z"/><path d="M113 962l6 6-6 6-6-6z"/><path d="M122 982h12l-6 9z"/><path d="M122 988h12l-6 9z"/>
<circle cx="143" cy="1022" r="5"/><circle cx="143" cy="1040" r="5"/><rect x="153" y="1023" width="10" height="10"/><rect x="153" y="1033" width="10" height="10"/><path d="M172 1048l6 6-6 6-6-6z"/><path d="M172 1054l6 6-6 6-6-6z"/><path d="M180 1051h12l-6 9z"/>
<g stroke="#000" stroke-width="1.3"><line x1="76" y1="962" x2="90" y2="962"/><line x1="92" y1="950" x2="106" y2="950"/><line x1="106" y1="955" x2="120" y2="955"/><line x1="121" y1="983" x2="135" y2="983"/><line x1="136" y1="1021" x2="150" y2="1021"/><line x1="151" y1="1025" x2="165" y2="1025"/></g>
</g>
<g>
<circle cx="303" cy="1003" r="5"/><circle cx="303" cy="1035" r="5"/><rect x="314" y="1064" width="10" height="10"/><rect x="314" y="1049" width="10" height="10"/><path d="M333 1048l6 6-6 6-6-6z"/><path d="M333 1071l6 6-6 6-6-6z"/><path d="M342 1055h12l-6 9z"/><path d="M342 1076h12l-6 9z"/>
<circle cx="363" cy="968" r="5"/><circle cx="363" cy="997" r="5"/><rect x="373" y="997" width="10" height="10"/><rect x="373" y="1010" width="10" height="10"/><path d="M392 991l6 6-6 6-6-6z"/><path d="M392 1007l6 6-6 6-6-6z"/><path d="M400 990h12l-6 9z"/><path d="M400 1026h12l-6 9z"/>
<g stroke="#000" stroke-width="1.3"><line x1="296" y1="1008" x2="310" y2="1008"/><line x1="312" y1="1045" x2="326" y2="1045"/><line x1="326" y1="1044" x2="340" y2="1044"/><line x1="341" y1="1048" x2="355" y2="1048"/><line x1="356" y1="962" x2="370" y2="962"/><line x1="371" y1="995" x2="385" y2="995"/><line x1="385" y1="999" x2="399" y2="999"/><line x1="400" y1="1011" x2="414" y2="1011"/></g>
</g>
<g>
<circle cx="536" cy="1042" r="5"/><circle cx="536" cy="1055" r="5"/><rect x="547" y="1048" width="10" height="10"/><rect x="547" y="1077" width="10" height="10"/><path d="M566 1057l6 6-6 6-6-6z"/><path d="M566 1075l6 6-6 6-6-6z"/><path d="M575 1070h12l-6 9z"/><path d="M575 1080h12l-6 9z"/>
<circle cx="596" cy="920" r="5"/><circle cx="596" cy="945" r="5"/><rect x="606" y="928" width="10" height="10"/><rect x="606" y="942" width="10" height="10"/><path d="M625 930l6 6-6 6-6-6z"/><path d="M625 954l6 6-6 6-6-6z"/><path d="M633 957h12l-6 9z"/><path d="M633 962h12l-6 9z"/>
<g stroke="#000" stroke-width="1.3"><line x1="529" y1="1041" x2="543" y2="1041"/><line x1="545" y1="1059" x2="559" y2="1059"/><line x1="559" y1="1066" x2="573" y2="1066"/><line x1="574" y1="1075" x2="588" y2="1075"/><line x1="589" y1="930" x2="603" y2="930"/><line x1="604" y1="930" x2="618" y2="930"/><line x1="618" y1="943" x2="632" y2="943"/></g>
</g>
<g>
<circle cx="761" cy="911" r="5"/><circle cx="761" cy="952" r="5"/><rect x="772" y="972" width="10" height="10"/><rect x="772" y="1013" width="10" height="10"/><path d="M791 929l6 6-6 6-6-6z"/><path d="M791 963l6 6-6 6-6-6z"/><path d="M800 930h12l-6 9z"/><path d="M800 1005h12l-6 9z"/>
<circle cx="821" cy="1001" r="5"/><circle cx="814" cy="1010" r="5"/><rect x="831" y="1004" width="10" height="10"/><rect x="831" y="1017" width="10" height="10"/><path d="M850 1004l6 6-6 6-6-6z"/><path d="M850 1017l6 6-6 6-6-6z"/><path d="M858 1003h12l-6 9z"/><path d="M858 1027h12l-6 9z"/>
<g stroke="#000" stroke-width="1.3"><line x1="754" y1="929" x2="768" y2="929"/><line x1="770" y1="998" x2="784" y2="998"/><line x1="784" y1="956" x2="798" y2="956"/><line x1="799" y1="975" x2="813" y2="975"/><line x1="814" y1="1004" x2="828" y2="1004"/><line x1="829" y1="1013" x2="843" y2="1013"/><line x1="843" y1="1013" x2="857" y2="1013"/><line x1="858" y1="1007" x2="872" y2="1007"/></g>
</g>
<g>
<circle cx="988" cy="1078" r="5"/><circle cx="996" cy="1077" r="5"/><rect x="1002" y="928" width="10" height="10"/><rect x="1002" y="1027" width="10" height="10"/><path d="M1021 1023l6 6-6 6-6-6z"/><path d="M1021 919l6 6-6 6-6-6z"/><path d="M1030 1021h12l-6 9z"/><path d="M1030 1043h12l-6 9z"/>
<circle cx="1041" cy="1095" r="5"/><circle cx="1048" cy="1090" r="5"/><rect x="1052" y="1060" width="10" height="10"/><rect x="1052" y="1075" width="10" height="10"/><path d="M1074 1075l6 6-6 6-6-6z"/><path d="M1081 1062l6 6-6 6-6-6z"/><path d="M1086 1060h12l-6 9z"/><path d="M1086 1070h12l-6 9z"/>
<g stroke="#000" stroke-width="1.3"><line x1="984" y1="1077" x2="998" y2="1077"/><line x1="1000" y1="980" x2="1014" y2="980"/><line x1="1014" y1="977" x2="1028" y2="977"/><line x1="1029" y1="1018" x2="1043" y2="1018"/><line x1="1040" y1="1092" x2="1054" y2="1092"/><line x1="1050" y1="1052" x2="1064" y2="1052"/><line x1="1066" y1="1063" x2="1080" y2="1063"/><line x1="1080" y1="1067" x2="1094" y2="1067"/></g>
</g>
<g font-size="14" text-anchor="end">
<g id="xl1">
<text transform="translate(88,1128) rotate(-90)">Control</text><text transform="translate(104,1128) rotate(-90)">P1</text><text transform="translate(118,1128) rotate(-90)">P2</text><text transform="translate(133,1128) rotate(-90)">P14</text><text transform="translate(148,1128) rotate(-90)">Control</text><text transform="translate(163,1128) rotate(-90)">P1</text><text transform="translate(177,1128) rotate(-90)">P2</text><text transform="translate(191,1128) rotate(-90)">P14</text>
</g>
<use href="#xl1" x="220"/><use href="#xl1" x="453"/><use href="#xl1" x="678"/><use href="#xl1" x="908"/>
</g>
<g id="dl">
<text x="96" y="1201" font-size="12" text-anchor="middle">DMSO</text><line x1="78" y1="1190" x2="113" y2="1190" stroke="#000"/>
<text x="160" y="1201" font-size="12" text-anchor="middle">LBH-589</text><line x1="138" y1="1190" x2="186" y2="1190" stroke="#000"/>
</g>
<use href="#dl" x="220"/><use href="#dl" x="453"/><use href="#dl" x="678"/><use href="#dl" x="908"/>

<!-- i -->
<text x="410" y="1252" font-size="16" text-anchor="middle">DMSO</text><text x="820" y="1252" font-size="16" text-anchor="middle">LBH-589</text>
<line x1="188" y1="1260" x2="606" y2="1260" stroke="#000" stroke-width="2"/><line x1="612" y1="1260" x2="1032" y2="1260" stroke="#000" stroke-width="2"/>
<g font-size="16" text-anchor="middle"><text x="112" y="1278">Control</text><text x="254" y="1278">P1</text><text x="396" y="1278">P2</text><text x="536" y="1278">P14</text><text x="680" y="1278">P1</text><text x="821" y="1278">P2</text><text x="962" y="1278">P14</text></g>
<g font-size="16"><text x="22" y="1330">0h</text><text x="16" y="1425">24h</text><text x="16" y="1520">48h</text></g>
<g transform="translate(46,1284)"><rect width="137" height="92" fill="#000"/><g clip-path="url(#lens)"><rect width="137" height="92" fill="#bdbdbd"/><rect y="26" width="137" height="38" fill="#adadad"/></g></g>
<g transform="translate(188,1284)"><rect width="137" height="92" fill="#000"/><g clip-path="url(#lens)"><rect width="137" height="92" fill="#dcdcdc"/><rect y="24" width="137" height="40" fill="#cfcfcf"/></g></g>
<g transform="translate(330,1284)"><rect width="137" height="92" fill="#000"/><g clip-path="url(#lens)"><rect width="137" height="92" fill="#dadada"/><rect y="16" width="137" height="36" fill="#cdcdcd"/></g></g>
<g transform="translate(472,1284)"><rect width="137" height="92" fill="#000"/><g clip-path="url(#lens)"><rect width="137" height="92" fill="#b4b4b4"/><rect y="24" width="137" height="32" fill="#a3a3a3"/></g></g>
<g transform="translate(612,1284)"><rect width="137" height="92" fill="#000"/><g clip-path="url(#lens)"><rect width="137" height="92" fill="url(#cellsL)"/><rect y="25" width="137" height="32" fill="#9c9c9c"/></g></g>
<g transform="translate(754,1284)"><rect width="137" height="92" fill="#000"/><g clip-path="url(#lens)"><rect width="137" height="92" fill="url(#cellsL)"/><rect y="25" width="137" height="32" fill="#9f9f9f"/></g></g>
<g transform="translate(896,1284)"><rect width="137" height="92" fill="#000"/><g clip-path="url(#lens)"><rect width="137" height="92" fill="url(#cellsL)"/><rect y="25" width="137" height="32" fill="#9d9d9d"/></g></g>
<g>
<g transform="translate(46,1380)"><rect width="137" height="92" fill="#000"/><g clip-path="url(#lens)"><rect width="137" height="92" fill="url(#cells)"/></g></g>
<g transform="translate(188,1380)"><rect width="137" height="92" fill="#000"/><g clip-path="url(#lens)"><rect width="137" height="92" fill="url(#cells)"/></g></g>
<g transform="translate(330,1380)"><rect width="137" height="92" fill="#000"/><g clip-path="url(#lens)"><rect width="137" height="92" fill="url(#cells)"/></g></g>
<g transform="translate(472,1380)"><rect width="137" height="92" fill="#000"/><g clip-path="url(#lens)"><rect width="137" height="92" fill="url(#cells)"/></g></g>
<g transform="translate(612,1380)"><rect width="137" height="92" fill="#000"/><g clip-path="url(#lens)"><rect width="137" height="92" fill="url(#cells)"/></g></g>
<g transform="translate(754,1380)"><rect width="137" height="92" fill="#000"/><g clip-path="url(#lens)"><rect width="137" height="92" fill="url(#cells)"/></g></g>
<g transform="translate(896,1380)"><rect width="137" height="92" fill="#000"/><g clip-path="url(#lens)"><rect width="137" height="92" fill="url(#cells)"/></g></g>
</g>
<g>
<g transform="translate(46,1476)"><rect width="137" height="92" fill="#000"/><g clip-path="url(#lens)"><rect width="137" height="92" fill="url(#cellsL)"/></g></g>
<g transform="translate(188,1476)"><rect width="137" height="92" fill="#000"/><g clip-path="url(#lens)"><rect width="137" height="92" fill="url(#cellsL)"/></g></g>
<g transform="translate(330,1476)"><rect width="137" height="92" fill="#000"/><g clip-path="url(#lens)"><rect width="137" height="92" fill="url(#cellsL)"/></g></g>
<g transform="translate(472,1476)"><rect width="137" height="92" fill="#000"/><g clip-path="url(#lens)"><rect width="137" height="92" fill="url(#cellsL)"/></g></g>
<g transform="translate(612,1476)"><rect width="137" height="92" fill="#000"/><g clip-path="url(#lens)"><rect width="137" height="92" fill="url(#cellsL)"/></g></g>
<g transform="translate(754,1476)"><rect width="137" height="92" fill="#000"/><g clip-path="url(#lens)"><rect width="137" height="92" fill="url(#cellsL)"/></g></g>
<g transform="translate(896,1476)"><rect width="137" height="92" fill="#000"/><g clip-path="url(#lens)"><rect width="137" height="92" fill="url(#cellsL)"/></g></g>
</g>
<g stroke="#222" stroke-width="1" stroke-dasharray="5 3">
<g id="dl1"><line x1="48" y1="1320" x2="182" y2="1323"/><line x1="48" y1="1347" x2="182" y2="1350"/></g>
<use href="#dl1" x="142"/><use href="#dl1" x="284"/><use href="#dl1" x="426"/><use href="#dl1" x="566"/><use href="#dl1" x="708"/><use href="#dl1" x="850"/>
<use href="#dl1" y="97"/><use href="#dl1" x="142" y="97"/><use href="#dl1" x="284" y="97"/><use href="#dl1" x="426" y="97"/><use href="#dl1" x="566" y="97"/><use href="#dl1" x="708" y="97"/><use href="#dl1" x="850" y="97"/>
<use href="#dl1" y="193"/><use href="#dl1" x="142" y="193"/><use href="#dl1" x="284" y="193"/><use href="#dl1" x="426" y="193"/><use href="#dl1" x="566" y="193"/><use href="#dl1" x="708" y="193"/><use href="#dl1" x="850" y="193"/>
</g>
</svg>
</body></html>
